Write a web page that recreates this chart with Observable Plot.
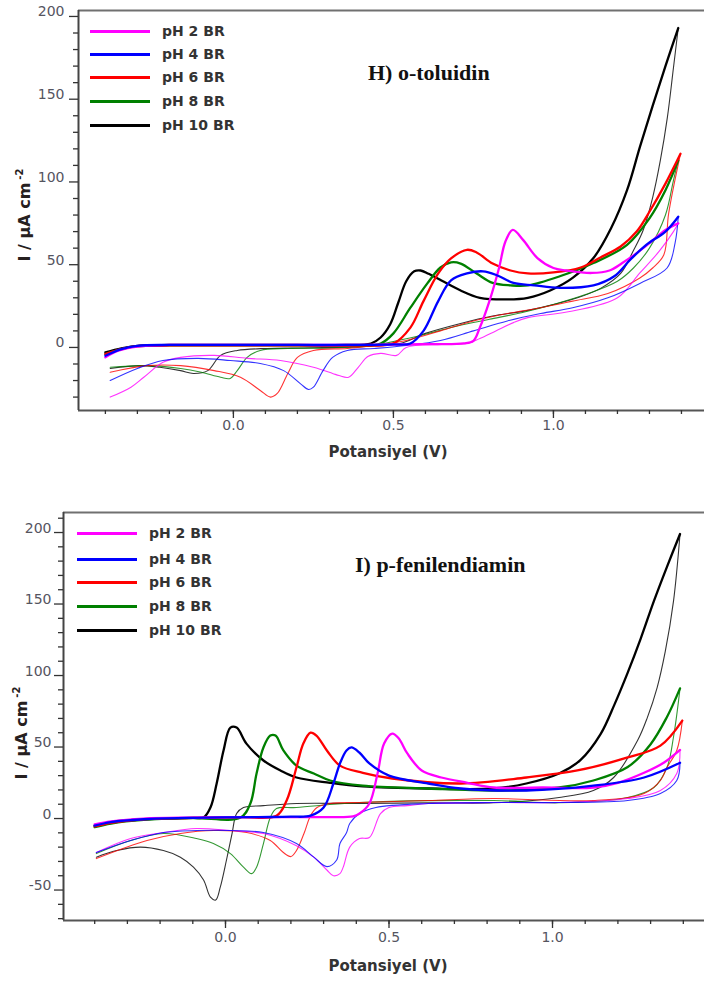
<!DOCTYPE html>
<html><head><meta charset="utf-8">
<script src="https://cdn.jsdelivr.net/npm/d3@7"></script>
<script src="https://cdn.jsdelivr.net/npm/@observablehq/plot@0.6"></script>
<style>
body{margin:0;background:#fff;}
#wrap{position:relative;width:704px;height:982px;overflow:hidden;font-family:"DejaVu Sans",Verdana,sans-serif;background:#fff;}
.panel{position:absolute;left:0;}
.leg{position:absolute;display:flex;align-items:center;height:20px;font-weight:bold;font-size:14px;color:#333;white-space:nowrap;}
.leg span.sw{display:inline-block;width:60px;height:3px;margin-right:12px;}
.ttl{position:absolute;font-family:"Liberation Serif","Times New Roman",serif;font-weight:bold;font-size:22px;color:#111;white-space:nowrap;}
.xt{position:absolute;font-weight:bold;font-size:15px;color:#333;white-space:nowrap;transform:translate(-50%,-50%);}
.yt{position:absolute;font-weight:bold;font-size:16px;color:#262020;white-space:nowrap;transform:translate(-50%,-50%) rotate(-90deg);}
.yt sup{font-size:10px;vertical-align:7px;margin-left:3px;}
</style></head><body><div id="wrap"></div>
<script>
// ---------- shared categories ----------
const seriesNames = ["pH 2 BR","pH 4 BR","pH 6 BR","pH 8 BR","pH 10 BR"];
const seriesColors = ["#ff00ff","#0000ff","#ff0000","#008000","#000000"];
const xMajorTicks = [0, 0.5, 1.0];
const xMinorTicks = [-0.4,-0.3,-0.2,-0.1,0,0.1,0.2,0.3,0.4,0.5,0.6,0.7,0.8,0.9,1.0,1.1,1.2,1.3,1.4];
const topYMajorTicks = [0,50,100,150,200];
const topYMinorTicks = [-30,-20,-10,10,20,30,40,60,70,80,90,110,120,130,140,160,170,180,190];
const botYMajorTicks = [-50,0,50,100,150,200];
const botYMinorTicks = [-70,-60,-40,-30,-20,-10,10,20,30,40,60,70,80,90,110,120,130,140,160,170,180,190,210];

// ---------- H) o-toluidin : forward (anodic) scans [V, I] ----------
const topFwdPH2 = [[-0.40,-6],[-0.36,-2],[-0.30,0.5],[-0.2,1.5],[0,1.5],[0.2,1.5],[0.4,1.5],[0.6,2],[0.72,2.4],[0.75,4],[0.77,12],[0.80,28],[0.83,48],[0.85,64],[0.873,71],[0.905,65],[0.95,54],[1.0,48],[1.04,46.5],[1.12,45],[1.175,46.5],[1.215,51],[1.26,57],[1.30,63],[1.35,71],[1.39,75]];
const topFwdPH4 = [[-0.40,-5],[-0.35,-1],[-0.3,1],[-0.2,1.5],[0,1.5],[0.2,1.5],[0.4,1.5],[0.5,1.8],[0.553,2.4],[0.594,10],[0.64,28],[0.68,40.5],[0.73,44.7],[0.78,46],[0.825,43.5],[0.875,39],[0.94,37.5],[1.02,36],[1.125,37.5],[1.19,43],[1.24,53],[1.29,62],[1.35,70],[1.39,79]];
const topFwdPH6 = [[-0.40,-4],[-0.35,-1],[-0.3,0.8],[-0.2,1.2],[0,1.2],[0.2,1.2],[0.4,1.3],[0.5,2.4],[0.553,12],[0.594,28],[0.64,44.7],[0.68,53.8],[0.73,59],[0.76,57.4],[0.81,50.7],[0.866,46.5],[0.92,44.7],[1.0,45.3],[1.085,48.3],[1.147,54.4],[1.21,61],[1.26,70],[1.30,82],[1.35,99],[1.397,117]];
const topFwdPH8 = [[-0.40,-4],[-0.35,-1],[-0.3,0.8],[-0.2,1.2],[0,1.2],[0.2,1.2],[0.4,1.3],[0.46,2.4],[0.5,8.5],[0.553,24],[0.606,38.7],[0.647,48.3],[0.68,51.4],[0.71,50.7],[0.76,44.7],[0.81,39],[0.866,37.5],[0.92,37.5],[1.02,43],[1.125,51],[1.23,62],[1.3,78],[1.35,95],[1.39,113]];
const topFwdPH10 = [[-0.40,-3],[-0.35,-0.5],[-0.3,1],[-0.2,1.5],[0,1.5],[0.2,1.5],[0.35,1.5],[0.43,2.4],[0.46,6],[0.49,14],[0.515,27],[0.54,40],[0.565,46],[0.585,46.5],[0.61,44.5],[0.65,40.5],[0.71,34.4],[0.77,30],[0.845,29],[0.92,30],[0.99,34.4],[1.06,42],[1.125,54],[1.18,72],[1.23,95],[1.27,121],[1.31,146],[1.35,170],[1.39,193]];
// ---------- H) o-toluidin : reverse (cathodic) scans ----------
const topRevPH2 = [[1.39,75],[1.375,70],[1.33,58],[1.27,45],[1.2,30],[1.06,22],[0.92,18],[0.875,15],[0.82,10],[0.77,5.4],[0.73,2.4],[0.65,1.8],[0.54,0],[0.51,-4.8],[0.46,-3.6],[0.42,-5.5],[0.39,-12],[0.36,-18],[0.33,-17],[0.31,-15.7],[0.25,-12],[0.147,-7.9],[0.044,-6.6],[-0.06,-4.8],[-0.165,-6],[-0.22,-9],[-0.28,-18],[-0.32,-24],[-0.385,-30]];
const topRevPH4 = [[1.39,79],[1.38,63],[1.355,48],[1.27,38.7],[1.17,30],[1.06,24],[0.96,20.5],[0.856,16],[0.75,10],[0.647,4.2],[0.54,1.2],[0.44,-0.6],[0.356,-1.8],[0.31,-6],[0.28,-14],[0.25,-24],[0.235,-25.4],[0.21,-22],[0.157,-14],[0.084,-9.7],[-0.01,-7.9],[-0.11,-6.6],[-0.22,-7.9],[-0.3,-12.7],[-0.385,-20]];
const topRevPH6 = [[1.397,117],[1.36,81],[1.345,56],[1.31,48],[1.27,42],[1.17,32.6],[1.06,28],[0.96,24],[0.856,20.5],[0.75,16],[0.647,10],[0.54,4.2],[0.44,1.2],[0.356,-0.6],[0.25,-1.8],[0.2,-6],[0.17,-15.7],[0.137,-27.8],[0.116,-30],[0.084,-26],[0.022,-18],[-0.06,-14],[-0.165,-11],[-0.27,-11],[-0.385,-15]];
const topRevPH8 = [[1.39,113],[1.375,101],[1.35,80],[1.3,60],[1.25,48],[1.2,40],[1.1,32],[1.0,26],[0.9,21],[0.8,17],[0.7,13],[0.6,8],[0.5,3.6],[0.44,1.2],[0.3,-0.3],[0.17,-0.6],[0.084,-1.8],[0.043,-6],[0.012,-14],[-0.01,-18.7],[-0.04,-18],[-0.10,-15],[-0.165,-12.7],[-0.27,-11],[-0.385,-12]];
const topRevPH10 = [[1.39,193],[1.375,169],[1.356,139],[1.334,113],[1.31,90.6],[1.28,70.7],[1.25,58.6],[1.21,44.7],[1.15,36],[1.075,30],[0.92,22.4],[0.81,19],[0.71,14.5],[0.6,8.5],[0.52,2.4],[0.4,0.5],[0.2,-0.3],[0.106,-0.6],[0.012,-1.8],[-0.04,-4.8],[-0.08,-14],[-0.125,-15.7],[-0.165,-14],[-0.23,-12],[-0.29,-11],[-0.385,-12.7]];

// ---------- I) p-fenilendiamin : forward scans ----------
const botFwdPH2 = [[-0.40,-4],[-0.35,-2],[-0.25,0],[-0.1,0.7],[0.1,1],[0.3,1],[0.39,1.5],[0.41,3.5],[0.44,10.5],[0.465,31.5],[0.485,52.4],[0.51,59.4],[0.53,56],[0.556,45.5],[0.6,33.6],[0.66,28.7],[0.74,25],[0.82,21.7],[0.97,21.7],[1.125,21.7],[1.2,25],[1.28,32],[1.34,39],[1.39,48]];
const botFwdPH4 = [[-0.40,-5],[-0.35,-2.5],[-0.25,-0.5],[-0.1,0.5],[0.1,1],[0.2,1.3],[0.26,2],[0.3,7.7],[0.33,24.5],[0.35,38.5],[0.37,47.6],[0.385,49.7],[0.41,46],[0.44,38.5],[0.5,30],[0.62,24.5],[0.72,21],[0.92,19.6],[1.125,23],[1.28,28.7],[1.39,39]];
const botFwdPH6 = [[-0.40,-5.5],[-0.35,-3],[-0.25,-0.5],[-0.1,0.5],[0.05,1],[0.156,2],[0.187,12.6],[0.217,35.7],[0.238,52.4],[0.26,60],[0.278,58],[0.31,47.6],[0.35,37],[0.42,32],[0.51,28],[0.72,24.5],[0.92,28.7],[1.076,33.6],[1.23,42.7],[1.33,51],[1.397,68.5]];
const botFwdPH8 = [[-0.40,-6],[-0.35,-3.5],[-0.25,-1],[-0.1,0.3],[0.046,0.7],[0.076,10.5],[0.095,31.5],[0.116,49.7],[0.137,58],[0.153,58],[0.177,47.6],[0.217,37],[0.27,31.5],[0.32,26.6],[0.42,23],[0.62,21],[0.82,19.6],[1.02,21.7],[1.125,26.6],[1.23,36],[1.3,52],[1.35,71],[1.39,91]];
const botFwdPH10 = [[-0.40,-5],[-0.35,-2.5],[-0.25,-0.5],[-0.1,0.5],[-0.067,0.7],[-0.046,7.7],[-0.027,24.5],[-0.006,47.6],[0.015,63.6],[0.034,63.6],[0.064,52.4],[0.116,40.6],[0.168,33.6],[0.217,28.7],[0.32,25],[0.42,22.5],[0.62,21],[0.82,21],[0.92,24.5],[1.02,31.5],[1.086,41],[1.147,59],[1.19,80],[1.23,102],[1.27,126],[1.31,152],[1.35,176],[1.39,199]];
// ---------- I) p-fenilendiamin : reverse scans ----------
const botRevPH2 = [[1.39,48],[1.38,31.5],[1.33,19.6],[1.23,14],[1.02,11.2],[0.82,11.2],[0.62,10.5],[0.556,9],[0.5,7.7],[0.474,3.5],[0.44,-13.3],[0.41,-14],[0.38,-20],[0.36,-34],[0.35,-38.5],[0.33,-40],[0.31,-36],[0.27,-27],[0.217,-19],[0.116,-10.5],[0.015,-8.4],[-0.089,-7],[-0.19,-9.8],[-0.29,-14],[-0.395,-23.8]];
const botRevPH4 = [[1.39,39],[1.38,26.6],[1.33,17.5],[1.23,12.6],[1.02,11.2],[0.82,11.2],[0.62,10.5],[0.46,7.7],[0.41,3.5],[0.38,-3.5],[0.37,-10],[0.35,-17.5],[0.34,-29],[0.31,-33.6],[0.27,-27],[0.217,-17.5],[0.116,-9.8],[0.015,-8.4],[-0.089,-8.4],[-0.19,-9.8],[-0.29,-15.4],[-0.395,-23.8]];
const botRevPH6 = [[1.397,68.5],[1.38,47.6],[1.35,35.7],[1.33,26.6],[1.28,17.5],[1.125,12.6],[0.82,14],[0.62,12.6],[0.41,11.2],[0.32,10.5],[0.28,7.7],[0.26,2],[0.24,-10.5],[0.217,-22.4],[0.2,-26.6],[0.177,-23.8],[0.137,-15.4],[0.065,-9.8],[-0.037,-8.4],[-0.138,-10.5],[-0.24,-15.4],[-0.395,-28]];
const botRevPH8 = [[1.39,91],[1.37,57],[1.35,35.7],[1.31,21.7],[1.23,14.7],[1.02,11],[0.82,12.6],[0.41,11.2],[0.217,7.7],[0.156,7],[0.137,0.7],[0.116,-17.5],[0.095,-34],[0.08,-38.5],[0.055,-34],[0.015,-24.5],[-0.037,-17.5],[-0.089,-14],[-0.19,-10.5],[-0.29,-15.4],[-0.395,-24.5]];
const botRevPH10 = [[1.39,199],[1.37,152],[1.345,117],[1.32,91.6],[1.29,70.6],[1.26,54.5],[1.187,28.7],[1.125,19.6],[1.02,14.7],[0.82,11],[0.62,11],[0.41,10.5],[0.217,10.5],[0.116,9],[0.055,7.7],[0.034,3.5],[0.02,-10.5],[0.003,-29],[-0.016,-48],[-0.03,-57],[-0.046,-55],[-0.067,-43],[-0.098,-34],[-0.138,-27],[-0.19,-22.4],[-0.26,-20],[-0.333,-22.4],[-0.395,-27]];

const wrap = document.getElementById("wrap");
const drawOrder = [4,3,2,0,1];

function makePanel(cfg) {
  const marks = [];
  const X = d => d[0], Y = d => d[1];
  drawOrder.forEach(i => marks.push(Plot.line(cfg.rev[i], {x: X, y: Y, stroke: seriesColors[i], strokeWidth: 1.1, strokeOpacity: 0.8, curve: "catmull-rom"})));
  drawOrder.forEach(i => marks.push(Plot.line(cfg.fwd[i], {x: X, y: Y, stroke: seriesColors[i], strokeWidth: 2.3, curve: "catmull-rom"})));
  marks.push(
    Plot.ruleY([cfg.yDomain[1]], {stroke: "#707070", strokeWidth: 2}),
    Plot.ruleY([cfg.yDomain[0]], {stroke: "#555", strokeWidth: 2}),
    Plot.ruleX([cfg.xDomain[0]], {stroke: "#444", strokeWidth: 2}),
    Plot.axisY({ticks: cfg.yMajor, tickSize: 9, tickFormat: () => "", stroke: "#333", strokeWidth: 1.3, label: null}),
    Plot.axisY({ticks: cfg.yMinor, tickSize: 5, tickFormat: () => "", stroke: "#333", strokeWidth: 1.3, label: null}),
    Plot.axisY({ticks: cfg.yMajor, tickSize: 0, tickPadding: cfg.yPad, dy: -4.5, fontSize: 14, fill: "#55555f", tickFormat: d => String(d), label: null}),
    Plot.axisX({ticks: xMajorTicks, tickSize: 8, tickFormat: () => "", stroke: "#333", strokeWidth: 1.3, label: null}),
    Plot.axisX({ticks: xMinorTicks, tickSize: 4, tickFormat: () => "", stroke: "#333", strokeWidth: 1.3, label: null}),
    Plot.axisX({ticks: xMajorTicks, tickSize: 0, tickPadding: cfg.xPad, fontSize: 14, fill: "#55555f", tickFormat: d3.format(".1f"), label: null})
  );
  const svg = Plot.plot({
    width: 704, height: cfg.height,
    marginTop: cfg.mt, marginBottom: cfg.height - cfg.bottomY, marginLeft: cfg.ml, marginRight: 0,
    x: {domain: cfg.xDomain}, y: {domain: cfg.yDomain},
    style: {fontFamily: "'DejaVu Sans', Verdana, sans-serif", background: "transparent", overflow: "visible"},
    marks
  });
  const holder = document.createElement("div");
  holder.className = "panel";
  holder.style.top = cfg.top + "px";
  holder.appendChild(svg);
  wrap.appendChild(holder);
}

function addLegend(x, ys) {
  seriesNames.forEach((n, i) => {
    const d = document.createElement("div");
    d.className = "leg";
    d.style.left = x + "px";
    d.style.top = (ys[i] - 10) + "px";
    d.innerHTML = `<span class="sw" style="background:${seriesColors[i]}"></span>${n}`;
    wrap.appendChild(d);
  });
}
function addText(cls, html, x, y) {
  const d = document.createElement("div");
  d.className = cls; d.innerHTML = html;
  d.style.left = x + "px"; d.style.top = y + "px";
  wrap.appendChild(d);
}

makePanel({
  top: 0, height: 465, mt: 10, bottomY: 410, ml: 78,
  xDomain: [-0.484, 1.472], yDomain: [-38.1, 203.6],
  yMajor: topYMajorTicks, yMinor: topYMinorTicks, yPad: 14, xPad: 10,
  fwd: [topFwdPH2, topFwdPH4, topFwdPH6, topFwdPH8, topFwdPH10],
  rev: [topRevPH2, topRevPH4, topRevPH6, topRevPH8, topRevPH10]
});
makePanel({
  top: 490, height: 492, mt: 22, bottomY: 430, ml: 63,
  xDomain: [-0.4954, 1.4648], yDomain: [-71.3, 214],
  yMajor: botYMajorTicks, yMinor: botYMinorTicks, yPad: 12, xPad: 12,
  fwd: [botFwdPH2, botFwdPH4, botFwdPH6, botFwdPH8, botFwdPH10],
  rev: [botRevPH2, botRevPH4, botRevPH6, botRevPH8, botRevPH10]
});

addLegend(90, [31, 54, 77, 101, 125]);
addLegend(77, [533, 559, 582, 606, 630]);

const t1 = document.createElement("div"); t1.className = "ttl"; t1.textContent = "H) o-toluidin";
t1.style.left = "368px"; t1.style.top = "60px"; wrap.appendChild(t1);
const t2 = document.createElement("div"); t2.className = "ttl"; t2.textContent = "I) p-fenilendiamin";
t2.style.left = "355px"; t2.style.top = "552px"; wrap.appendChild(t2);

addText("xt", "Potansiyel (V)", 388, 452);
addText("xt", "Potansiyel (V)", 388, 966);
addText("yt", "I / µA cm<sup>-2</sup>", 24, 215);
addText("yt", "I / µA cm<sup>-2</sup>", 21, 733);
</script>
</body></html>
